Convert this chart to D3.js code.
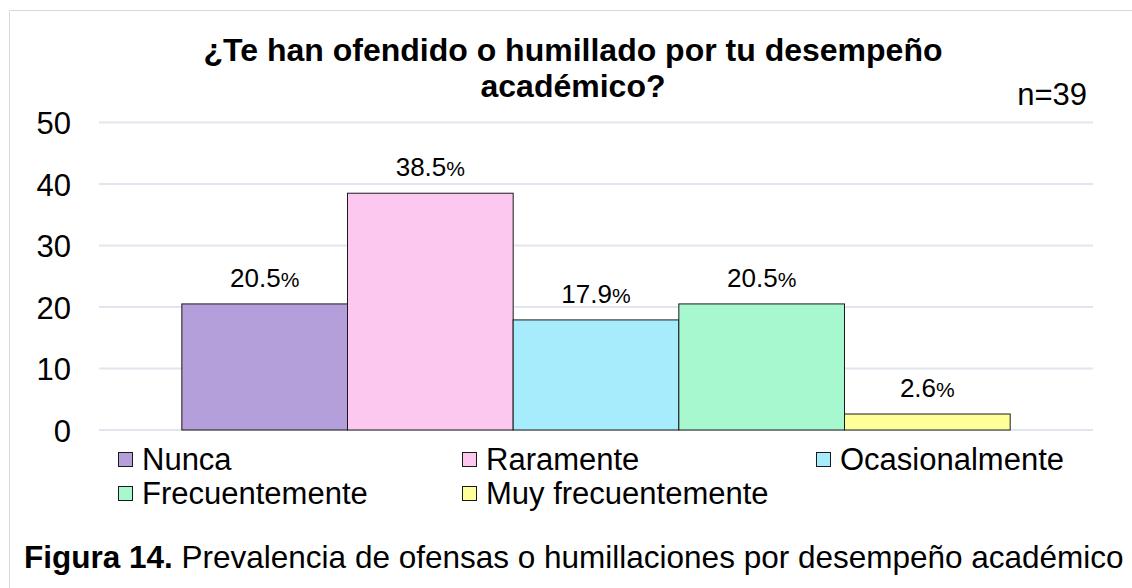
<!DOCTYPE html>
<html>
<head>
<meta charset="utf-8">
<script src="https://cdn.jsdelivr.net/npm/d3@7"></script>
<style>
  html, body { margin: 0; padding: 0; background: #fff; overflow: hidden; }
  svg { display: block; }
  text { font-family: "Liberation Sans", Arial, sans-serif; fill: #000; }
</style>
</head>
<body>
<svg id="chart" width="1132" height="588"></svg>
<script>
const categories = ["Nunca", "Raramente", "Ocasionalmente", "Frecuentemente", "Muy frecuentemente"];
const values = [20.5, 38.5, 17.9, 20.5, 2.6];
const labels = ["20.5", "38.5", "17.9", "20.5", "2.6"];
const colors = ["#B49FDB", "#FDC8F0", "#A6ECFD", "#A7F8CF", "#FFFF9A"];
const yTicks = [0, 10, 20, 30, 40, 50];
const titleLines = ["¿Te han ofendido o humillado por tu desempeño", "académico?"];
const sampleNote = "n=39";
const captionBold = "Figura 14.";
const captionText = " Prevalencia de ofensas o humillaciones por desempeño académico";

const svg = d3.select("#chart");

// outer frame (left + top)
svg.append("path")
  .attr("d", "M9.5,588 L9.5,10.5 L1132,10.5")
  .attr("fill", "none").attr("stroke", "#d9d9d9").attr("stroke-width", 1);

const plotLeft = 99, plotRight = 1093;
const y = d3.scaleLinear().domain([0, 50]).range([430, 122.5]);
const xGroup = d3.scaleBand().domain(["g"]).range([plotLeft, plotRight]).paddingInner(0).paddingOuter(0.1);
const x = d3.scaleBand().domain(categories).range([xGroup("g"), xGroup("g") + xGroup.bandwidth()]).padding(0);

// gridlines
svg.append("g").selectAll("line").data(yTicks).join("line")
  .attr("x1", plotLeft).attr("x2", plotRight)
  .attr("y1", d => y(d)).attr("y2", d => y(d))
  .attr("stroke", "#e1e5ee").attr("stroke-width", 2);

// y axis labels
const yAxis = d3.axisLeft(y).tickValues(yTicks).tickSize(0).tickPadding(0);
const gy = svg.append("g").attr("transform", "translate(71,0)").call(yAxis);
gy.select(".domain").remove();
gy.selectAll("text").attr("font-size", 31).attr("font-family", "Liberation Sans, Arial, sans-serif").attr("fill", "#000").attr("dy", "0.36em");

// bars
svg.append("g").selectAll("rect").data(categories).join("rect")
  .attr("x", d => x(d)).attr("width", x.bandwidth())
  .attr("y", (d, i) => y(values[i])).attr("height", (d, i) => y(0) - y(values[i]))
  .attr("fill", (d, i) => colors[i]).attr("stroke", "#1a1a1a").attr("stroke-width", 1);

// value labels
const lbl = svg.append("g").selectAll("text").data(categories).join("text")
  .attr("x", d => x(d) + x.bandwidth() / 2)
  .attr("y", (d, i) => y(values[i]) - 17)
  .attr("text-anchor", "middle").attr("font-size", 26);
lbl.append("tspan").text((d, i) => labels[i]);
lbl.append("tspan").attr("font-size", 21).text("%");

// title
svg.append("g").selectAll("text").data(titleLines).join("text")
  .attr("x", 573).attr("y", (d, i) => 61 + i * 36)
  .attr("text-anchor", "middle").attr("font-size", 32).attr("font-weight", "bold")
  .text(d => d);

// n=39
svg.append("text").attr("x", 1087).attr("y", 105).attr("text-anchor", "end")
  .attr("font-size", 31).text(sampleNote);

// legend
const legendPos = [[118, 0], [462, 0], [816, 0], [118, 1], [462, 1]];
const lg = svg.append("g").selectAll("g").data(categories).join("g")
  .attr("transform", (d, i) => `translate(${legendPos[i][0]},${452 + legendPos[i][1] * 34})`);
lg.append("rect").attr("x", 0.5).attr("y", 0.5).attr("width", 14).attr("height", 14)
  .attr("fill", (d, i) => colors[i]).attr("stroke", "#1a1a1a").attr("stroke-width", 1);
lg.append("text").attr("x", 24).attr("y", 18).attr("font-size", 31).text(d => d);

// caption
const cap = svg.append("text").attr("x", 24).attr("y", 568).attr("font-size", 31.5);
cap.append("tspan").attr("font-weight", "bold").text(captionBold);
cap.append("tspan").text(captionText);
</script>
</body>
</html>
